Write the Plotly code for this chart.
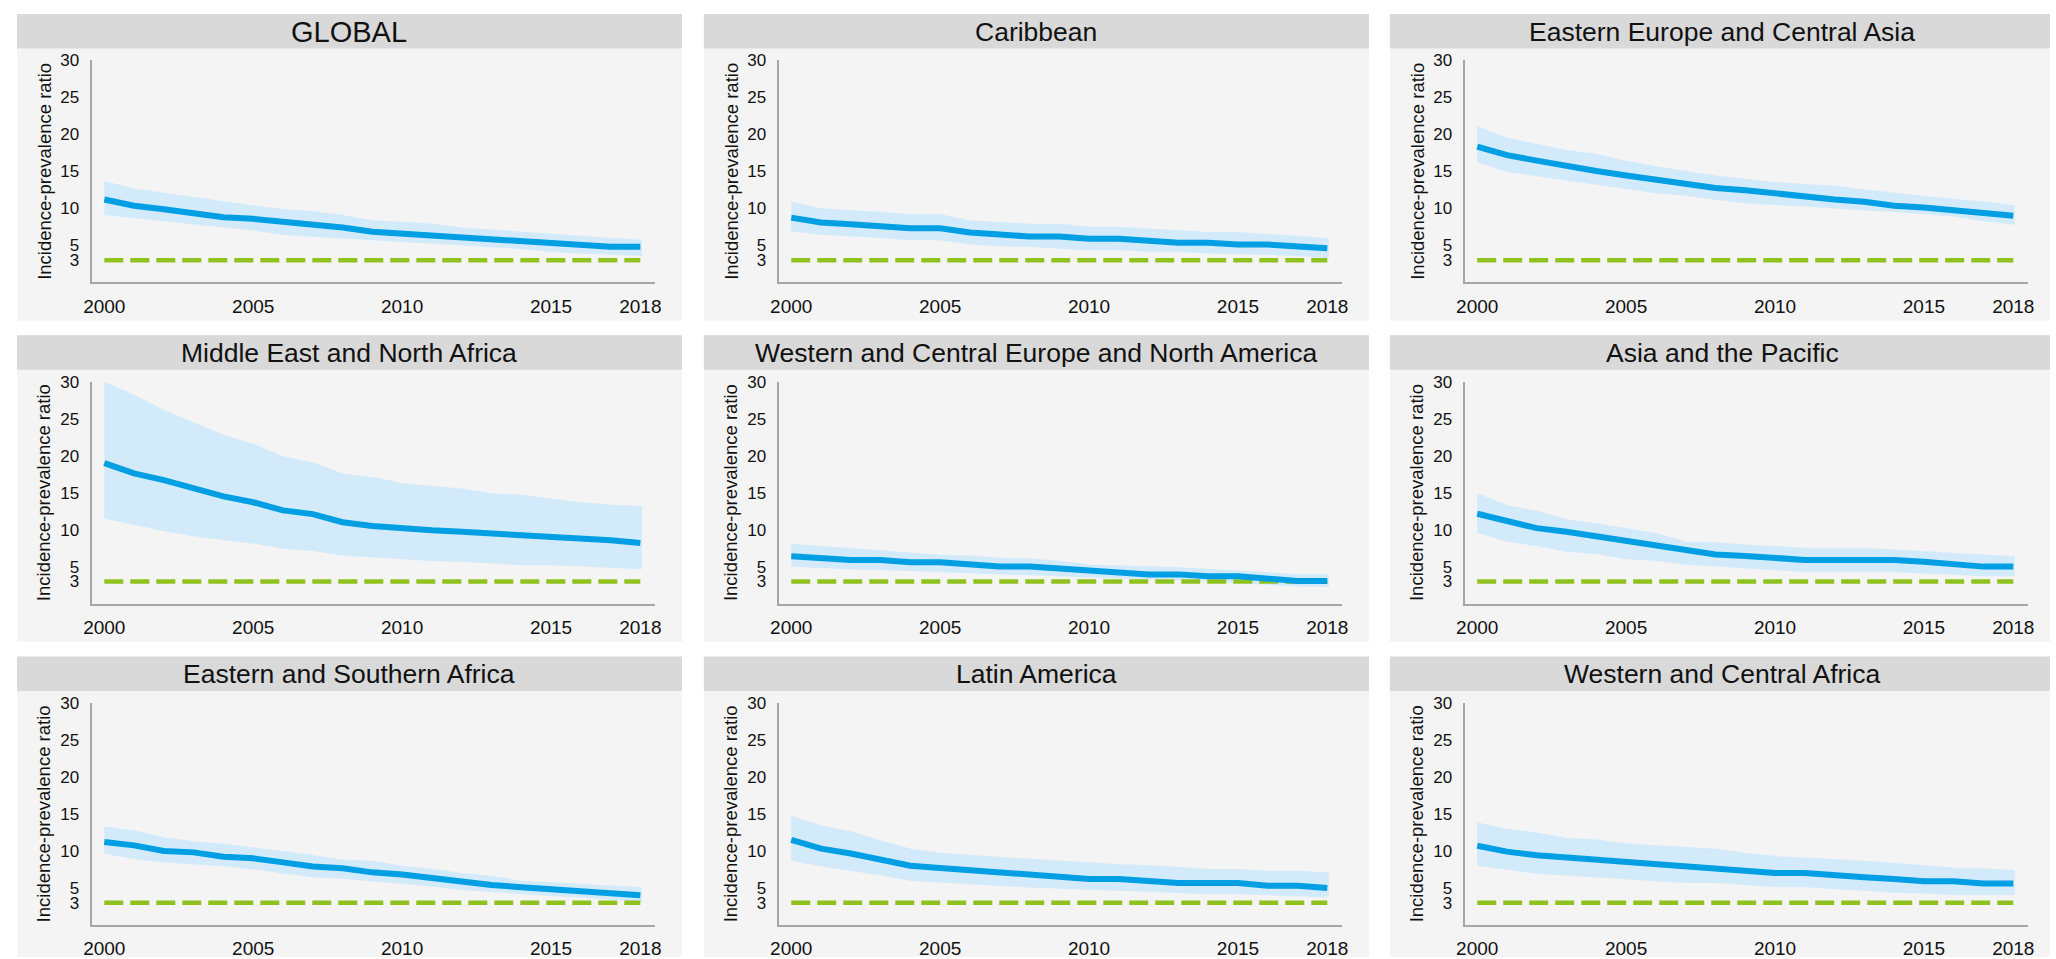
import plotly.graph_objects as go

# ---------------------------------------------------------------------------
# Incidence-prevalence ratio by region, 2000-2018 (estimate with uncertainty)
# ---------------------------------------------------------------------------
years = list(range(2000, 2019))
target_ratio = 3
x_tick_vals = [2000, 2005, 2010, 2015, 2018]
y_tick_vals = [3, 5, 10, 15, 20, 25, 30]

regions = [
    "GLOBAL", "Caribbean", "Eastern Europe and Central Asia",
    "Middle East and North Africa", "Western and Central Europe and North America", "Asia and the Pacific",
    "Eastern and Southern Africa", "Latin America", "Western and Central Africa",
]

global_est = [11.2, 10.36, 9.87, 9.33, 8.8, 8.58, 8.22, 7.69, 7.42, 6.84, 6.57, 6.3, 6.08, 5.8, 5.6, 5.3, 5.1, 4.8, 4.8]
global_hi = [13.5, 12.45, 11.9, 11.3, 10.75, 10.2, 9.7, 9.4, 8.9, 8.2, 8.0, 7.7, 7.2, 6.95, 6.7, 6.44, 6.1, 5.8, 5.55]
global_lo = [9.3, 8.8, 8.4, 8.0, 7.6, 7.2, 6.6, 6.4, 6.2, 5.9, 5.64, 5.4, 5.2, 4.95, 4.7, 4.3, 4.1, 3.9, 3.77]

carib_est = [8.75, 8.1, 7.85, 7.55, 7.3, 7.3, 6.75, 6.45, 6.2, 6.2, 5.9, 5.9, 5.65, 5.35, 5.35, 5.1, 5.1, 4.9, 4.6]
carib_hi = [10.7, 9.8, 9.55, 9.35, 9.0, 9.0, 8.2, 8.0, 7.7, 7.7, 7.3, 7.3, 7.1, 6.9, 6.6, 6.6, 6.35, 6.1, 5.8]
carib_lo = [7.1, 6.65, 6.45, 6.2, 5.9, 5.9, 5.35, 5.05, 5.0, 4.75, 4.55, 4.55, 4.35, 4.35, 4.1, 4.0, 3.9, 3.75, 3.45]

eeca_est = [18.35, 17.2, 16.45, 15.7, 15.05, 14.45, 13.9, 13.35, 12.75, 12.45, 12.0, 11.7, 11.2, 10.9, 10.35, 10.1, 9.8, 9.35, 9.0]
eeca_hi = [20.9, 19.35, 18.5, 17.7, 17.15, 16.25, 15.5, 14.9, 14.25, 13.8, 13.35, 13.1, 12.9, 12.35, 11.9, 11.55, 11.05, 10.75, 10.2]
eeca_lo = [16.45, 15.1, 14.45, 13.9, 13.35, 12.8, 12.25, 11.9, 11.35, 10.9, 10.65, 10.45, 10.2, 9.9, 9.7, 9.45, 9.1, 8.45, 8.0]

mena_est = [19.0, 17.6, 16.7, 15.6, 14.5, 13.7, 12.6, 12.1, 11.0, 10.5, 10.1, 9.9, 9.7, 9.5, 9.25, 9.0, 8.8, 8.55, 8.2]
mena_hi = [29.8, 28.0, 26.0, 24.3, 22.6, 21.4, 19.7, 18.9, 17.4, 16.9, 16.1, 15.7, 15.35, 14.7, 14.5, 14.0, 13.5, 13.2, 13.0]
mena_lo = [11.7, 10.9, 10.0, 9.3, 8.75, 8.3, 7.6, 7.3, 6.7, 6.45, 6.2, 5.95, 5.85, 5.65, 5.4, 5.4, 5.25, 5.0, 4.9]

wcena_est = [6.4, 6.15, 5.9, 5.9, 5.6, 5.6, 5.3, 5.0, 5.0, 4.75, 4.45, 4.2, 3.95, 3.95, 3.7, 3.7, 3.4, 3.05, 3.05]
wcena_hi = [7.9, 7.6, 7.3, 7.1, 6.8, 6.4, 6.3, 6.0, 5.9, 5.6, 5.1, 5.0, 4.8, 4.7, 4.5, 4.3, 4.1, 3.8, 3.75]
wcena_lo = [5.2, 5.0, 4.85, 4.75, 4.6, 4.45, 4.3, 4.2, 4.1, 3.9, 3.75, 3.6, 3.45, 3.4, 3.2, 3.0, 2.8, 2.5, 2.45]

ap_est = [12.15, 11.2, 10.2, 9.7, 9.1, 8.55, 7.9, 7.35, 6.65, 6.45, 6.2, 5.9, 5.9, 5.9, 5.9, 5.65, 5.3, 5.0, 5.0]
ap_hi = [14.7, 13.1, 12.35, 11.2, 10.65, 10.0, 9.35, 8.2, 8.1, 7.8, 7.55, 7.35, 7.35, 7.35, 7.1, 6.9, 6.6, 6.45, 6.2]
ap_lo = [9.8, 8.55, 8.0, 7.2, 6.9, 6.2, 6.0, 5.45, 5.25, 5.0, 4.75, 4.45, 4.45, 4.45, 4.45, 4.3, 4.1, 3.9, 3.9]

esa_est = [11.2, 10.75, 10.0, 9.8, 9.2, 9.0, 8.45, 7.9, 7.65, 7.1, 6.8, 6.3, 5.75, 5.4, 5.1, 4.8, 4.5, 4.2, 4.0]
esa_hi = [13.1, 12.55, 11.65, 11.1, 10.75, 10.3, 9.8, 9.2, 8.65, 8.45, 7.8, 7.35, 6.8, 6.45, 5.75, 5.55, 5.3, 5.1, 4.9]
esa_lo = [9.8, 9.1, 8.65, 8.45, 8.15, 7.7, 7.2, 6.65, 6.45, 6.0, 5.75, 5.4, 4.9, 4.65, 4.35, 4.1, 3.9, 3.65, 3.3]

latam_est = [11.5, 10.3, 9.65, 8.9, 8.0, 7.7, 7.4, 7.1, 6.8, 6.5, 6.2, 6.2, 5.9, 5.65, 5.65, 5.65, 5.3, 5.3, 5.0]
latam_hi = [14.55, 13.25, 12.45, 11.2, 10.1, 9.55, 9.25, 9.0, 8.75, 8.55, 8.3, 8.0, 7.9, 7.65, 7.4, 7.35, 7.1, 7.1, 6.9]
latam_lo = [8.9, 8.1, 7.55, 6.9, 6.15, 5.85, 5.65, 5.45, 5.25, 5.0, 4.9, 4.75, 4.65, 4.5, 4.35, 4.35, 4.2, 4.1, 3.9]

wca_est = [10.7, 9.9, 9.4, 9.1, 8.8, 8.3, 8.0, 7.8, 7.55, 7.25, 7.0, 7.0, 6.65, 6.45, 6.2, 5.9, 5.9, 5.6, 5.6]
wca_hi = [13.65, 12.8, 12.3, 11.55, 11.35, 10.8, 10.55, 10.3, 10.1, 9.55, 9.1, 8.9, 8.7, 8.45, 8.15, 7.8, 7.55, 7.45, 7.2]
wca_lo = [8.2, 7.65, 7.1, 6.9, 6.6, 6.35, 6.1, 5.85, 5.85, 5.55, 5.3, 5.3, 5.1, 4.8, 4.55, 4.45, 4.2, 4.2, 4.2]

estimates = [global_est, carib_est, eeca_est, mena_est, wcena_est, ap_est, esa_est, latam_est, wca_est]
upper = [global_hi, carib_hi, eeca_hi, mena_hi, wcena_hi, ap_hi, esa_hi, latam_hi, wca_hi]
lower = [global_lo, carib_lo, eeca_lo, mena_lo, wcena_lo, ap_lo, esa_lo, latam_lo, wca_lo]

# ---------------------------------------------------------------------------
# Styling / layout geometry (pixels on a 2056 x 959 page)
# ---------------------------------------------------------------------------
W, H = 2056, 959
LINE_BLUE = "#009fe3"
BAND_BLUE = "#d2eafa"
TARGET_GREEN = "#8fc21f"
PANEL_BG = "#f4f4f4"
TITLE_BG = "#d9d9d9"
AXIS_GREY = "#a6a6a6"
FONT = "Liberation Sans, Arial, sans-serif"

col_off = [0, 692, 1383]
row_off = [0, 325, 650]


def px_x(v):
    return min(max(v / W, 0.0), 1.0)


def px_y(v):
    return min(max(1 - v / H, 0.0), 1.0)


fig = go.Figure()
shapes = []
annotations = []
layout_axes = {}

for i, name in enumerate(regions):
    r, c = divmod(i, 3)
    ox, oy = col_off[c], row_off[r]
    xa = "x" if i == 0 else f"x{i + 1}"
    ya = "y" if i == 0 else f"y{i + 1}"

    # panel background and heading strip
    shapes.append(dict(type="rect", xref="paper", yref="paper", layer="below",
                       x0=px_x(8 + ox), x1=px_x(678 + ox),
                       y0=px_y(315 + oy), y1=px_y(5 + oy),
                       fillcolor=PANEL_BG, line=dict(width=0)))
    shapes.append(dict(type="rect", xref="paper", yref="paper", layer="below",
                       x0=px_x(8 + ox), x1=px_x(678 + ox),
                       y0=px_y(40 + oy), y1=px_y(5 + oy),
                       fillcolor=TITLE_BG, line=dict(width=0)))
    annotations.append(dict(text=name, xref="paper", yref="paper",
                            x=px_x(343 + ox), y=px_y(23 + oy),
                            xanchor="center", yanchor="middle", showarrow=False,
                            font=dict(family=FONT, size=29 if i == 0 else 26.5, color="#111111")))
    annotations.append(dict(text="Incidence-prevalence ratio", xref="paper", yref="paper",
                            x=px_x(35 + ox), y=px_y(164 + oy), textangle=-90,
                            xanchor="center", yanchor="middle", showarrow=False,
                            font=dict(family=FONT, size=18.5, color="#111111")))

    # uncertainty band
    fig.add_trace(go.Scatter(
        x=years + years[::-1], y=upper[i] + lower[i][::-1],
        fill="toself", fillcolor=BAND_BLUE, mode="lines",
        line=dict(color=BAND_BLUE, width=3),
        xaxis=xa, yaxis=ya, hoverinfo="skip", showlegend=False))
    # target ratio reference line
    fig.add_trace(go.Scatter(
        x=[years[0], years[-1]], y=[target_ratio, target_ratio], mode="lines",
        line=dict(color=TARGET_GREEN, width=4.5, dash="19px,7px"),
        xaxis=xa, yaxis=ya, hoverinfo="skip", showlegend=False))
    # point estimate
    fig.add_trace(go.Scatter(
        x=years, y=estimates[i], mode="lines",
        line=dict(color=LINE_BLUE, width=6),
        xaxis=xa, yaxis=ya, showlegend=False, name=name))

    key = "" if i == 0 else str(i + 1)
    layout_axes[f"xaxis{key}"] = dict(
        domain=[px_x(84 + ox), px_x(651 + ox)], anchor=ya,
        range=[1999.6, 2018.5], tickvals=x_tick_vals,
        showline=True, linecolor=AXIS_GREY, linewidth=1.5,
        showgrid=False, zeroline=False, ticks="", ticklabelstandoff=6,
        tickfont=dict(family=FONT, size=19, color="#111111"), fixedrange=True)
    layout_axes[f"yaxis{key}"] = dict(
        domain=[px_y(276.5 + oy), px_y(52 + oy)], anchor=xa,
        range=[0, 30], tickvals=y_tick_vals,
        showline=True, linecolor=AXIS_GREY, linewidth=1.5,
        showgrid=False, zeroline=False, ticks="", ticklabelstandoff=8,
        tickfont=dict(family=FONT, size=17, color="#111111"), fixedrange=True)

fig.update_layout(
    width=W, height=H,
    margin=dict(l=0, r=0, t=0, b=0),
    paper_bgcolor="white", plot_bgcolor="rgba(0,0,0,0)",
    shapes=shapes, annotations=annotations,
    **layout_axes,
)

fig.write_html("out.html", config={"displayModeBar": False})
